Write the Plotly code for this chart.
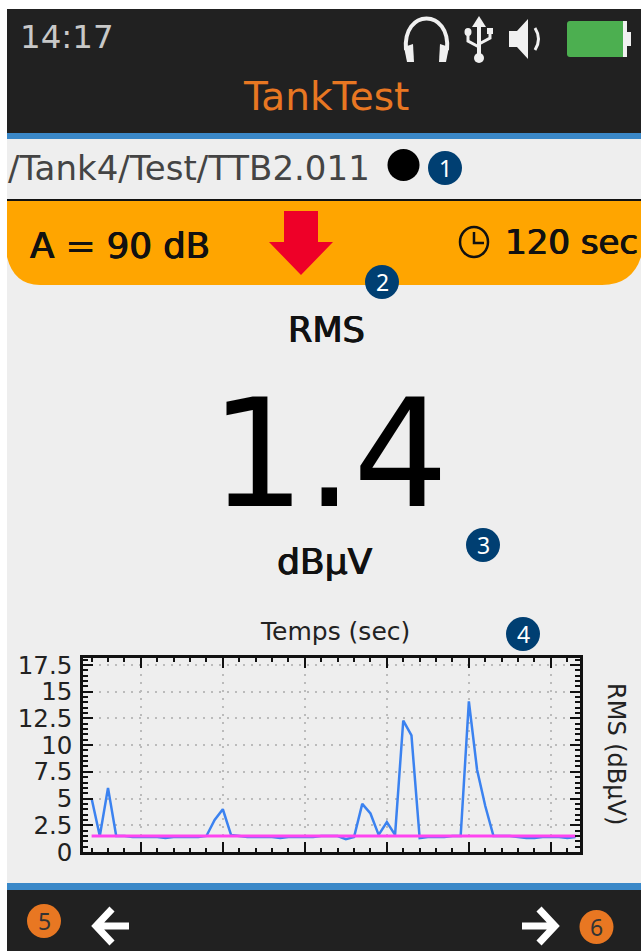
import re
import plotly.graph_objects as go

sample_index = list(range(60))
rms_values = [5.0, 1.5, 6.0, 1.5, 1.5, 1.4, 1.4, 1.4, 1.4, 1.3, 1.4, 1.4, 1.4, 1.4, 1.5, 3.0, 4.0, 1.6, 1.5, 1.4,
              1.4, 1.4, 1.4, 1.3, 1.4, 1.4, 1.4, 1.4, 1.5, 1.5, 1.5, 1.2, 1.4, 4.5, 3.6, 1.6, 2.8, 1.6, 12.3, 10.9,
              1.3, 1.4, 1.4, 1.4, 1.5, 1.5, 14.1, 7.7, 4.3, 1.5, 1.5, 1.5, 1.4, 1.3, 1.3, 1.4, 1.4, 1.4, 1.3, 1.4]
reference_level = [1.5] * 60
y_ticks = [0, 2.5, 5, 7.5, 10, 12.5, 15, 17.5]
y_labels = ["0", "2.5", "5", "7.5", "10", "12.5", "15", "17.5"]
x_major_ticks = [6, 16, 26, 36, 46, 56]

W, H = 641, 951
def X(v): return v / W
def Y(v): return 1 - v / H

def path(s):
    nums = iter(range(10**6))
    def rep(m):
        i = next(nums)
        v = float(m.group(0))
        return f"{X(v) if i % 2 == 0 else Y(v):.5f}"
    return re.sub(r"-?\d+\.?\d*", rep, s)

shapes = []
def rect(x0, y0, x1, y1, color):
    shapes.append(dict(type="rect", xref="paper", yref="paper", x0=X(x0), x1=X(x1), y0=Y(y0), y1=Y(y1),
                       fillcolor=color, line=dict(width=0), layer="below"))
def circle(cx, cy, rx, ry, color, line=None, lw=0):
    shapes.append(dict(type="circle", xref="paper", yref="paper", x0=X(cx-rx), x1=X(cx+rx), y0=Y(cy+ry), y1=Y(cy-ry),
                       fillcolor=color, line=dict(width=lw, color=line or color), layer="above"))
def fill(d, color):
    shapes.append(dict(type="path", xref="paper", yref="paper", path=path(d), fillcolor=color,
                       line=dict(width=0), layer="above"))
def stroke(d, color, w):
    shapes.append(dict(type="path", xref="paper", yref="paper", path=path(d), fillcolor="rgba(0,0,0,0)",
                       line=dict(width=w, color=color), layer="above"))

PANEL = "#EEEEEE"; DARK = "#212121"; BLUE = "#3A88C8"; ORANGE = "#E87722"; NAVY = "#003F72"
rect(7, 9, W, H, PANEL)
rect(7, 9, W, 133, DARK)
rect(7, 133, W, 139, BLUE)
rect(7, 883, W, 890, BLUE)
rect(7, 890, W, H, DARK)
rect(7, 199, W, 201, "#111111")
shapes.append(dict(type="path", xref="paper", yref="paper", layer="below", fillcolor="#FFA500", line=dict(width=0),
                   path=path("M 7 201 L 641 201 L 641 257 Q 632 285 602 285 L 40 285 Q 14 285 7 257 Z")))

# red arrow
fill("M 284 211 L 318 211 L 318 242 L 333 242 L 301 275 L 269 242 L 284 242 Z", "#EE0028")
# clock
circle(474, 242, 14, 15, "rgba(0,0,0,0)", "#111111", 2.5)
stroke("M 474 232 L 474 243 L 484 243", "#111111", 2.5)
# record dot
circle(403.5, 165, 16, 16, "#000000")
# headphones
stroke("M 406 50 C 402 8 451 8 447 50", "#F0F0F0", 4)
fill("M 404 47 L 413 44 L 414 62 L 407 62 Z", "#F0F0F0")
fill("M 449 47 L 440 44 L 439 62 L 446 62 Z", "#F0F0F0")
# usb
stroke("M 479 24 L 479 56", "#F0F0F0", 4)
fill("M 479 16 L 486 27 L 472 27 Z", "#F0F0F0")
circle(479, 58, 5, 5, "#F0F0F0")
stroke("M 479 47 L 468 41 L 468 34", "#F0F0F0", 3)
stroke("M 479 44 L 490 38 L 490 32", "#F0F0F0", 3)
circle(468, 32, 3.5, 4, "#F0F0F0")
fill("M 487 28 L 493 28 L 493 34 L 487 34 Z", "#F0F0F0")
# speaker
fill("M 509 31 L 517 31 L 528 19 L 528 59 L 517 47 L 509 47 Z", "#F0F0F0")
stroke("M 535 28 Q 542 39 535 50", "#F0F0F0", 3)
# battery
fill("M 570 21 L 623 21 L 623 57 L 570 57 Q 567 57 567 54 L 567 24 Q 567 21 570 21 Z", "#4CAF50")
fill("M 623 21 L 627 21 L 627 32 L 631 32 L 631 46 L 627 46 L 627 57 L 623 57 Z", "#F0F0F0")
# nav arrows
stroke("M 129 926 L 98 926 M 112 909 L 96 926 L 112 943", "#FFFFFF", 7)
stroke("M 522 926 L 553 926 M 539 909 L 555 926 L 539 943", "#FFFFFF", 7)

ann = []
BOLDISH = "0.7px 0 0 #111111, -0.4px 0 0 #111111"
def text(x, y, t, size, color, anchor="center", family="DejaVu Sans", angle=0, shadow=None):
    f = dict(family=family, size=size, color=color)
    if shadow:
        f["shadow"] = shadow
    ann.append(dict(xref="paper", yref="paper", x=X(x), y=Y(y), text=t, showarrow=False, xanchor=anchor,
                    yanchor="middle", textangle=angle, borderpad=0, borderwidth=0, font=f))

text(20, 37, "14:17", 32.5, "#C8C8C8", "left")
text(326, 96, "TankTest", 39, ORANGE)
text(8, 168, "/Tank4/Test/TTB2.011", 34, "#444444", "left")
text(30, 246, "A = 90 dB", 35.5, "#111111", "left", shadow=BOLDISH)
text(505, 242, "120 sec", 34, "#111111", "left", shadow=BOLDISH)
text(326, 330, "RMS", 35, "#111111", shadow=BOLDISH)
text(329, 454, "1.4", 150, "#000000")
text(324, 561, "dBµV", 36, "#111111", shadow=BOLDISH)
text(335, 631, "Temps (sec)", 25, "#222222")
text(616, 754, "RMS (dBµV)", 24, "#222222", angle=90)

for cx, cy, n, c, tc in [(445, 168, "1", NAVY, "white"), (382, 282, "2", NAVY, "white"), (483, 545, "3", NAVY, "white"),
                         (523, 634, "4", NAVY, "white"), (44, 921, "5", ORANGE, "#333333"), (596.5, 927, "6", ORANGE, "#333333")]:
    circle(cx, cy, 17, 17, c)
    text(cx, cy, n, 23, tc, family="Noto Sans")

fig = go.Figure()
fig.add_trace(go.Scatter(x=sample_index, y=rms_values, mode="lines", line=dict(color="#3B82F0", width=2.5), hoverinfo="skip"))
fig.add_trace(go.Scatter(x=sample_index, y=reference_level, mode="lines", line=dict(color="#FF44F0", width=3), hoverinfo="skip"))

fig.update_layout(
    width=W, height=H, margin=dict(l=0, r=0, t=0, b=0, autoexpand=False), autosize=False, showlegend=False,
    paper_bgcolor="#FFFFFF", plot_bgcolor="rgba(0,0,0,0)", shapes=shapes, annotations=ann,
    xaxis=dict(domain=[X(83), X(580)], range=[-1.05, 59.55], tickmode="array", tickvals=x_major_ticks,
               showticklabels=False, ticks="inside", ticklen=10, tickwidth=2, tickcolor="#111111",
               showline=True, linewidth=2.5, linecolor="#111111", mirror="allticks", zeroline=False,
               showgrid=True, gridcolor="#BBBBBB", griddash="2px,6px", gridwidth=1.5,
               minor=dict(dtick=2, tick0=0, ticks="inside", ticklen=4, tickwidth=2, tickcolor="#111111", showgrid=False)),
    yaxis=dict(domain=[Y(852), Y(658)], range=[0, 18.15], tickmode="array", tickvals=y_ticks, ticktext=y_labels,
               ticks="inside", ticklen=10, tickwidth=2, tickcolor="#111111", ticklabelstandoff=3,
               tickfont=dict(family="DejaVu Sans", size=24.5, color="#222222"),
               showline=True, linewidth=2.5, linecolor="#111111", mirror="allticks", zeroline=False,
               showgrid=True, gridcolor="#BBBBBB", griddash="2px,6px", gridwidth=1.5,
               minor=dict(dtick=0.5, tick0=0, ticks="inside", ticklen=5, tickwidth=2, tickcolor="#111111", showgrid=False)),
)
fig.write_html("out.html", config=dict(displayModeBar=False),
               post_script="document.body.style.margin='0';document.body.style.overflow='hidden';")
